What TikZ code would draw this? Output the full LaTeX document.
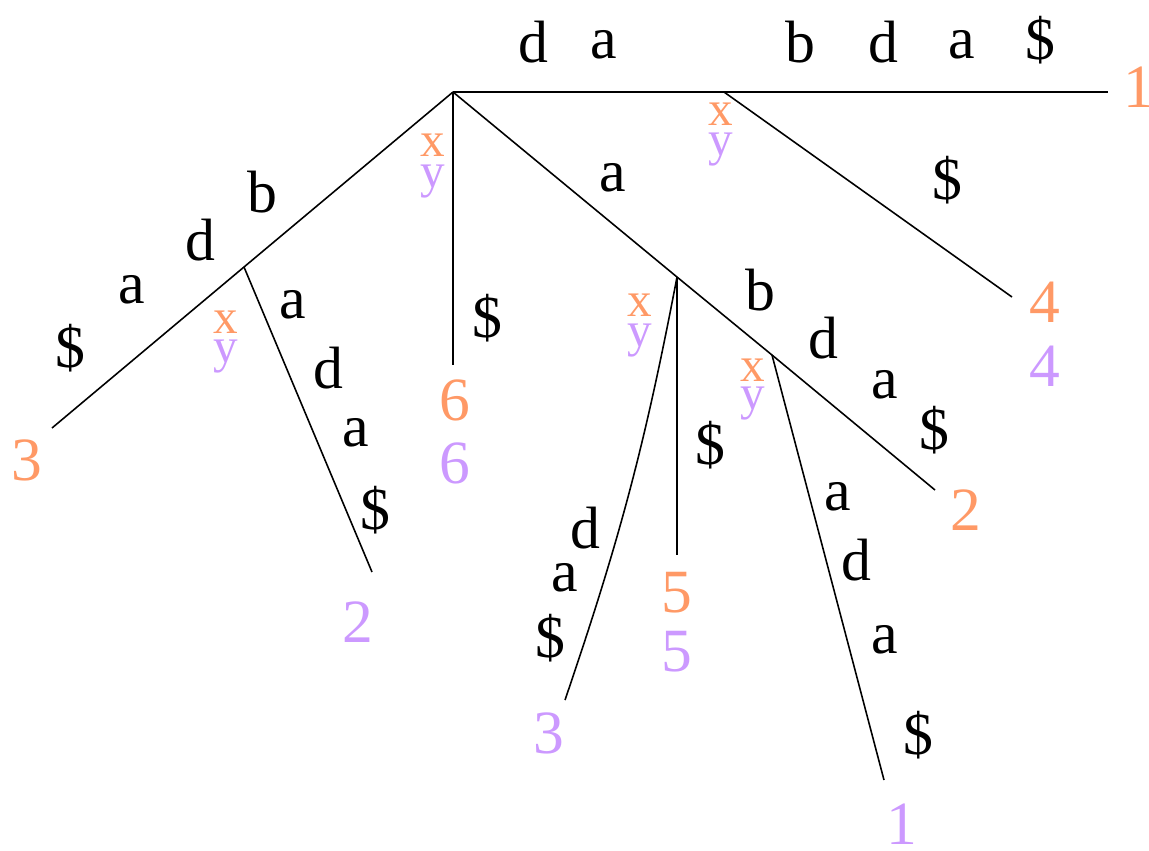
\documentclass[tikz,border=0pt]{standalone}
\usepackage{fontspec}
\setmainfont{Liberation Serif}
\usepackage{tikz}
\definecolor{storange}{RGB}{255,153,102}
\definecolor{stpurple}{RGB}{204,153,255}
\usetikzlibrary{positioning}

\begin{document}
\begin{tikzpicture}[x=0.02cm,y=-0.02cm,
  stchar/.style={font=\fontsize{34}{34}\selectfont,inner sep=0pt},
  stleafx/.style={font=\fontsize{35}{35}\selectfont,text=storange,inner sep=0pt},
  stleafy/.style={font=\fontsize{35}{35}\selectfont,text=stpurple,inner sep=0pt},
  stmarkx/.style={font=\fontsize{28}{28}\selectfont,text=storange,inner sep=0pt},
  stmarky/.style={font=\fontsize{28}{28}\selectfont,text=stpurple,inner sep=0pt},
  stedge/.style={line width=0.9pt}
]
  \useasboundingbox (0,0) rectangle (1149,850);
  % Internal nodes and leaf ends
  \coordinate (root) at (453,92);
  \coordinate (u1) at (724,92);
  \coordinate (u2) at (244,267);
  \coordinate (u3) at (677,277);
  \coordinate (u4) at (772,355);
  \coordinate (e1) at (1108,92);
  \coordinate (e4) at (1012,297);
  \coordinate (e6) at (453,365);
  \coordinate (e3a) at (52,428);
  \coordinate (e2b) at (372,572);
  \coordinate (e2a) at (935,490);
  \coordinate (e5) at (677,555);
  \coordinate (e3b) at (565,700);
  \coordinate (e1b) at (884,780);
  % Edges
  \draw[stedge] (root) -- (u1) -- (e1);
  \draw[stedge] (u1) -- (e4);
  \draw[stedge] (root) -- (e6);
  \draw[stedge] (root) -- (u2) -- (e3a);
  \draw[stedge] (u2) -- (e2b);
  \draw[stedge] (root) -- (u3) -- (u4) -- (e2a);
  \draw[stedge] (u3) -- (e5);
  \draw[stedge] (u3) to[bend left=4] (e3b);
  \draw[stedge] (u4) -- (e1b);
  % Edge labels, top
  \node[stchar] (t1) at (533,42) {d};
  \node[stchar] (t2) at (604,45) {a};
  \node[stchar] (t3) at (800,42) {b};
  \node[stchar] (t4) at (883,42) {d};
  \node[stchar] (t5) at (962,45) {a};
  \node[stchar] (t6) at (1040,40) {\$};
  \node[stchar] (t7) at (947,180) {\$};
  \node[stchar] (t8) at (487,318) {\$};
  % Edge labels, left
  \node[stchar] (l1) at (262,192) {b};
  \node[stchar] (l2) at (200,240) {d};
  \node[stchar] (l3) at (132,290) {a};
  \node[stchar] (l4) at (70,348) {\$};
  \node[stchar] (l5) at (293,305) {a};
  \node[stchar] (l6) at (328,368) {d};
  \node[stchar] (l7) at (356,433) {a};
  \node[stchar] (l8) at (375,510) {\$};
  % Edge labels, right
  \node[stchar] (r1) at (613,178) {a};
  \node[stchar] (r2) at (760,290) {b};
  \node[stchar] (r3) at (823,338) {d};
  \node[stchar] (r4) at (885,385) {a};
  \node[stchar] (r5) at (934,430) {\$};
  \node[stchar] (r6) at (710,445) {\$};
  \node[stchar] (r7) at (585,528) {d};
  \node[stchar] (r8) at (565,578) {a};
  \node[stchar] (r9) at (550,638) {\$};
  \node[stchar] (r10) at (838,497) {a};
  \node[stchar] (r11) at (856,560) {d};
  \node[stchar] (r12) at (885,640) {a};
  \node[stchar] (r13) at (918,735) {\$};
  % x/y marks at internal nodes
  \node[stmarkx] (mx0) at (433,145) {x};
  \node[stmarky] (my0) at (433,182) {y};
  \node[stmarkx] (mx1) at (721,114) {x};
  \node[stmarky] (my1) at (721,150) {y};
  \node[stmarkx] (mx2) at (226,322) {x};
  \node[stmarky] (my2) at (226,357) {y};
  \node[stmarkx] (mx3) at (640,305) {x};
  \node[stmarky] (my3) at (640,341) {y};
  \node[stmarkx] (mx4) at (753,370) {x};
  \node[stmarky] (my4) at (753,404) {y};
  % Leaf numbers
  \node[stleafx] (x1) at (1139,87) {1};
  \node[stleafx] (x4) at (1045,302) {4};
  \node[stleafy] (y4) at (1045,366) {4};
  \node[stleafx] (x6) at (455,400) {6};
  \node[stleafy] (y6) at (455,463) {6};
  \node[stleafx] (x3) at (27,460) {3};
  \node[stleafy] (y2) at (358,622) {2};
  \node[stleafx] (x2) at (966,510) {2};
  \node[stleafx] (x5) at (677,593) {5};
  \node[stleafy] (y5) at (677,652) {5};
  \node[stleafy] (y3) at (549,733) {3};
  \node[stleafy] (y1) at (902,824) {1};
\end{tikzpicture}
\end{document}
